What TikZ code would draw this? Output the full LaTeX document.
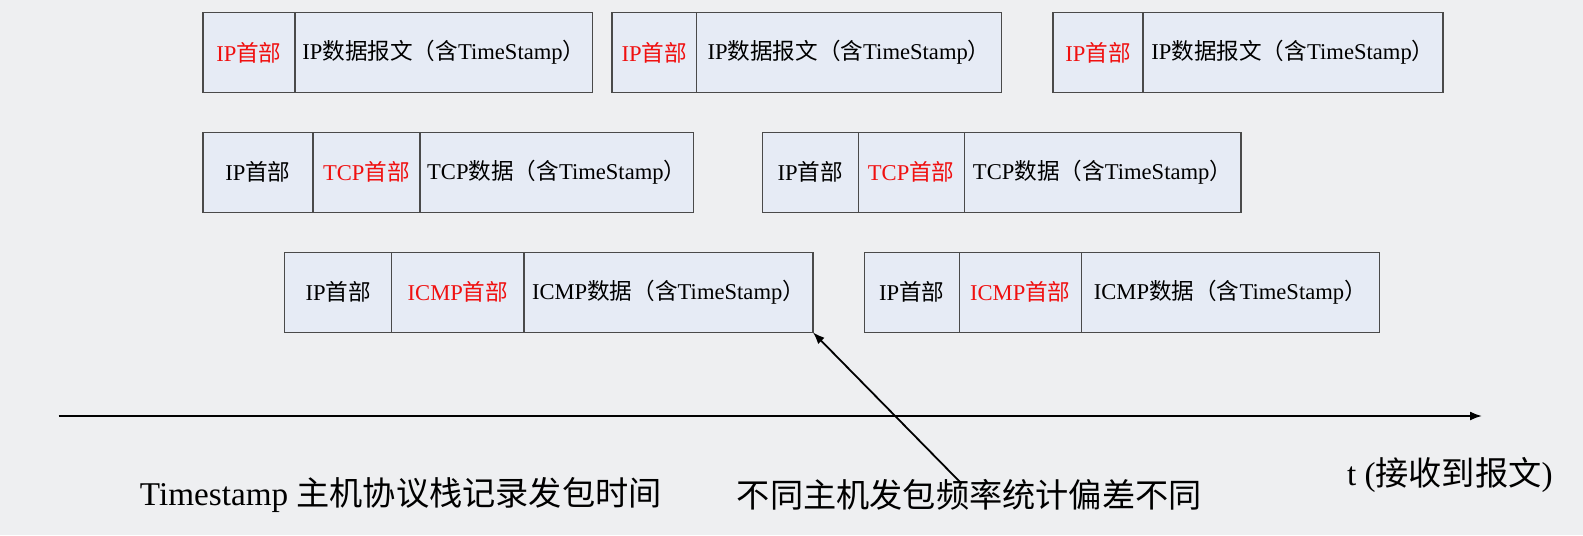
\documentclass[tikz,border=0pt]{standalone}
\usepackage{fontspec}
\setmainfont{Liberation Serif}
\newfontfamily\cjk{Noto Sans CJK SC}
\newcommand{\zh}[1]{{\cjk #1}}
\usepackage{xcolor}
\usetikzlibrary{arrows.meta, positioning}
\definecolor{cellfill}{HTML}{E6EBF5}
\definecolor{cellline}{HTML}{4A4A4A}
\definecolor{hdrred}{HTML}{F01010}
\definecolor{slidebg}{HTML}{EEEFF1}
\tikzset{
  cell/.style={rectangle, draw=cellline, line width=0.7pt, fill=cellfill, minimum height=40pt, inner sep=0pt, outer sep=0pt, font=\fontsize{11.3}{13}\selectfont},
  hdr/.style={cell, text=hdrred},
  note/.style={font=\fontsize{16.6}{19}\selectfont, inner sep=0pt},
  arr/.style={-{Latex[length=6pt, width=4.5pt]}, line width=0.9pt, black},
}

\begin{document}
\begin{tikzpicture}[x=0.5pt, y=-0.5pt]
\fill[slidebg] (0,0) rectangle (1583,535);
% IP datagrams
\node[hdr, minimum width=46pt, anchor=west] (iph1) at (202.9,52.5) {IP\zh{首部}};
\node[cell, minimum width=148.9pt, right=0pt of iph1] (ipd1) {IP\zh{数据报文（含}TimeStamp\zh{）}};
\node[hdr, minimum width=42.4pt, anchor=west] (iph2) at (611.8,52.5) {IP\zh{首部}};
\node[cell, minimum width=152.4pt, right=0pt of iph2] (ipd2) {IP\zh{数据报文（含}TimeStamp\zh{）}};
\node[hdr, minimum width=45pt, anchor=west] (iph3) at (1053,52.5) {IP\zh{首部}};
\node[cell, minimum width=149.9pt, right=0pt of iph3] (ipd3) {IP\zh{数据报文（含}TimeStamp\zh{）}};
% TCP segments
\node[cell, minimum width=55pt, anchor=west] (tip1) at (202.9,172.2) {IP\zh{首部}};
\node[hdr, minimum width=53.5pt, right=0pt of tip1] (tcph1) {TCP\zh{首部}};
\node[cell, minimum width=136.8pt, right=0pt of tcph1] (tcpd1) {TCP\zh{数据（含}TimeStamp\zh{）}};
\node[cell, minimum width=48pt, anchor=west] (tip2) at (762.2,172.2) {IP\zh{首部}};
\node[hdr, minimum width=53pt, right=0pt of tip2] (tcph2) {TCP\zh{首部}};
\node[cell, minimum width=138.3pt, right=0pt of tcph2] (tcpd2) {TCP\zh{数据（含}TimeStamp\zh{）}};
% ICMP messages
\node[cell, minimum width=53.5pt, anchor=west] (cip1) at (284.7,292.3) {IP\zh{首部}};
\node[hdr, minimum width=66.2pt, right=0pt of cip1] (icmph1) {ICMP\zh{首部}};
\node[cell, minimum width=144.4pt, right=0pt of icmph1] (icmpd1) {ICMP\zh{数据（含}TimeStamp\zh{）}};
\node[cell, minimum width=47.5pt, anchor=west] (cip2) at (864.2,292.3) {IP\zh{首部}};
\node[hdr, minimum width=61.1pt, right=0pt of cip2] (icmph2) {ICMP\zh{首部}};
\node[cell, minimum width=148.9pt, right=0pt of icmph2] (icmpd2) {ICMP\zh{数据（含}TimeStamp\zh{）}};
% time axis
\coordinate (t0) at (58.6,416);
\coordinate (t1) at (1482,416);
\draw[arr] (t0) -- (t1);
\node[note] (tlabel) at (1449.8,474.5) {t (\zh{接收到报文})};
% notes
\node[note] (stamp) at (400.8,494.7) {Timestamp \zh{主机协议栈记录发包时间}};
\node[note] (skew) at (969.2,494.7) {\zh{不同主机发包频率统计偏差不同}};
\coordinate (skewtail) at (960,482);
\draw[arr] (skewtail) -- (icmpd1.south east);
\end{tikzpicture}
\end{document}
